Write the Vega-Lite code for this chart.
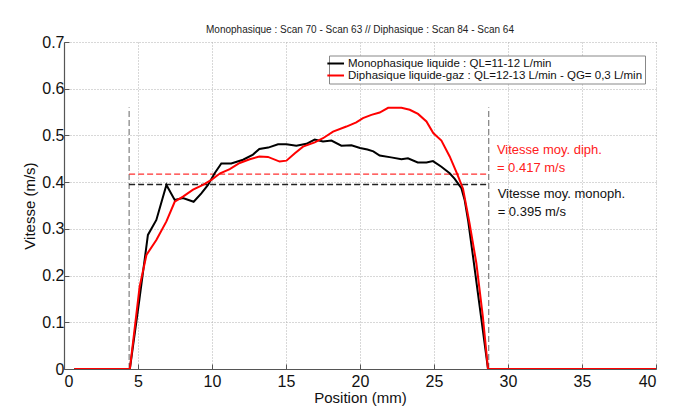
{
  "$schema": "https://vega.github.io/schema/vega-lite/v6.json",
  "width": 592,
  "height": 327,
  "autosize": {"type": "none"},
  "padding": {"left": 64, "top": 42, "right": 24, "bottom": 41},
  "background": "white",
  "config": {
    "view": {"stroke": null},
    "font": "Liberation Sans",
    "axis": {
      "grid": true,
      "gridColor": "#b0b0b0",
      "gridDash": [1, 2],
      "gridWidth": 1,
      "domainColor": "#555555",
      "domainWidth": 1.2,
      "tickColor": "#555555",
      "tickSize": -5,
      "labelFontSize": 16,
      "labelColor": "#111111",
      "titleFontSize": 15,
      "titleFontWeight": "normal",
      "titleColor": "#111111"
    }
  },
  "title": {
    "text": "Monophasique : Scan 70 - Scan 63 // Diphasique : Scan 84 - Scan 64",
    "anchor": "middle",
    "offset": -1,
    "font": "Liberation Sans",
    "fontSize": 10,
    "fontWeight": "normal",
    "color": "#222222"
  },
  "datasets": {
    "curves": [
      {"serie": "Monophasique liquide : QL=11-12 L/min", "x": 0.7, "y": 0},
      {"serie": "Monophasique liquide : QL=11-12 L/min", "x": 4.45, "y": 0},
      {"serie": "Monophasique liquide : QL=11-12 L/min", "x": 5.1, "y": 0.15},
      {"serie": "Monophasique liquide : QL=11-12 L/min", "x": 5.67, "y": 0.287},
      {"serie": "Monophasique liquide : QL=11-12 L/min", "x": 6.24, "y": 0.319},
      {"serie": "Monophasique liquide : QL=11-12 L/min", "x": 6.92, "y": 0.394},
      {"serie": "Monophasique liquide : QL=11-12 L/min", "x": 7.48, "y": 0.362},
      {"serie": "Monophasique liquide : QL=11-12 L/min", "x": 8.04, "y": 0.366},
      {"serie": "Monophasique liquide : QL=11-12 L/min", "x": 8.76, "y": 0.358},
      {"serie": "Monophasique liquide : QL=11-12 L/min", "x": 9.28, "y": 0.376},
      {"serie": "Monophasique liquide : QL=11-12 L/min", "x": 9.73, "y": 0.394},
      {"serie": "Monophasique liquide : QL=11-12 L/min", "x": 10.18, "y": 0.419},
      {"serie": "Monophasique liquide : QL=11-12 L/min", "x": 10.63, "y": 0.44},
      {"serie": "Monophasique liquide : QL=11-12 L/min", "x": 11.3, "y": 0.44},
      {"serie": "Monophasique liquide : QL=11-12 L/min", "x": 12.1, "y": 0.448},
      {"serie": "Monophasique liquide : QL=11-12 L/min", "x": 12.77, "y": 0.459},
      {"serie": "Monophasique liquide : QL=11-12 L/min", "x": 13.2, "y": 0.471},
      {"serie": "Monophasique liquide : QL=11-12 L/min", "x": 13.8, "y": 0.474},
      {"serie": "Monophasique liquide : QL=11-12 L/min", "x": 14.46, "y": 0.481},
      {"serie": "Monophasique liquide : QL=11-12 L/min", "x": 15.03, "y": 0.481},
      {"serie": "Monophasique liquide : QL=11-12 L/min", "x": 15.7, "y": 0.478},
      {"serie": "Monophasique liquide : QL=11-12 L/min", "x": 16.38, "y": 0.482},
      {"serie": "Monophasique liquide : QL=11-12 L/min", "x": 16.94, "y": 0.491},
      {"serie": "Monophasique liquide : QL=11-12 L/min", "x": 17.5, "y": 0.487},
      {"serie": "Monophasique liquide : QL=11-12 L/min", "x": 18.07, "y": 0.489},
      {"serie": "Monophasique liquide : QL=11-12 L/min", "x": 18.74, "y": 0.478},
      {"serie": "Monophasique liquide : QL=11-12 L/min", "x": 19.42, "y": 0.479},
      {"serie": "Monophasique liquide : QL=11-12 L/min", "x": 20.0, "y": 0.473},
      {"serie": "Monophasique liquide : QL=11-12 L/min", "x": 20.5, "y": 0.47},
      {"serie": "Monophasique liquide : QL=11-12 L/min", "x": 20.9, "y": 0.466},
      {"serie": "Monophasique liquide : QL=11-12 L/min", "x": 21.33, "y": 0.457},
      {"serie": "Monophasique liquide : QL=11-12 L/min", "x": 22.1, "y": 0.453},
      {"serie": "Monophasique liquide : QL=11-12 L/min", "x": 22.8, "y": 0.449},
      {"serie": "Monophasique liquide : QL=11-12 L/min", "x": 23.24, "y": 0.451},
      {"serie": "Monophasique liquide : QL=11-12 L/min", "x": 23.9, "y": 0.442},
      {"serie": "Monophasique liquide : QL=11-12 L/min", "x": 24.49, "y": 0.442},
      {"serie": "Monophasique liquide : QL=11-12 L/min", "x": 24.93, "y": 0.445},
      {"serie": "Monophasique liquide : QL=11-12 L/min", "x": 25.5, "y": 0.433},
      {"serie": "Monophasique liquide : QL=11-12 L/min", "x": 26.06, "y": 0.419},
      {"serie": "Monophasique liquide : QL=11-12 L/min", "x": 26.4, "y": 0.407},
      {"serie": "Monophasique liquide : QL=11-12 L/min", "x": 26.85, "y": 0.387},
      {"serie": "Monophasique liquide : QL=11-12 L/min", "x": 27.07, "y": 0.362},
      {"serie": "Monophasique liquide : QL=11-12 L/min", "x": 27.3, "y": 0.319},
      {"serie": "Monophasique liquide : QL=11-12 L/min", "x": 27.64, "y": 0.24},
      {"serie": "Monophasique liquide : QL=11-12 L/min", "x": 28.09, "y": 0.133},
      {"serie": "Monophasique liquide : QL=11-12 L/min", "x": 28.65, "y": 0},
      {"serie": "Monophasique liquide : QL=11-12 L/min", "x": 40, "y": 0},
      {"serie": "Diphasique liquide-gaz : QL=12-13 L/min - QG= 0,3 L/min", "x": 0.7, "y": 0},
      {"serie": "Diphasique liquide-gaz : QL=12-13 L/min - QG= 0,3 L/min", "x": 4.45, "y": 0},
      {"serie": "Diphasique liquide-gaz : QL=12-13 L/min - QG= 0,3 L/min", "x": 5.11, "y": 0.176},
      {"serie": "Diphasique liquide-gaz : QL=12-13 L/min - QG= 0,3 L/min", "x": 5.57, "y": 0.244},
      {"serie": "Diphasique liquide-gaz : QL=12-13 L/min - QG= 0,3 L/min", "x": 6.24, "y": 0.276},
      {"serie": "Diphasique liquide-gaz : QL=12-13 L/min - QG= 0,3 L/min", "x": 6.92, "y": 0.316},
      {"serie": "Diphasique liquide-gaz : QL=12-13 L/min - QG= 0,3 L/min", "x": 7.48, "y": 0.358},
      {"serie": "Diphasique liquide-gaz : QL=12-13 L/min - QG= 0,3 L/min", "x": 8.04, "y": 0.369},
      {"serie": "Diphasique liquide-gaz : QL=12-13 L/min - QG= 0,3 L/min", "x": 8.72, "y": 0.384},
      {"serie": "Diphasique liquide-gaz : QL=12-13 L/min - QG= 0,3 L/min", "x": 9.39, "y": 0.394},
      {"serie": "Diphasique liquide-gaz : QL=12-13 L/min - QG= 0,3 L/min", "x": 9.96, "y": 0.405},
      {"serie": "Diphasique liquide-gaz : QL=12-13 L/min - QG= 0,3 L/min", "x": 10.55, "y": 0.419},
      {"serie": "Diphasique liquide-gaz : QL=12-13 L/min - QG= 0,3 L/min", "x": 11.2, "y": 0.428},
      {"serie": "Diphasique liquide-gaz : QL=12-13 L/min - QG= 0,3 L/min", "x": 11.87, "y": 0.441},
      {"serie": "Diphasique liquide-gaz : QL=12-13 L/min - QG= 0,3 L/min", "x": 12.55, "y": 0.449},
      {"serie": "Diphasique liquide-gaz : QL=12-13 L/min - QG= 0,3 L/min", "x": 13.2, "y": 0.455},
      {"serie": "Diphasique liquide-gaz : QL=12-13 L/min - QG= 0,3 L/min", "x": 13.78, "y": 0.454},
      {"serie": "Diphasique liquide-gaz : QL=12-13 L/min - QG= 0,3 L/min", "x": 14.57, "y": 0.444},
      {"serie": "Diphasique liquide-gaz : QL=12-13 L/min - QG= 0,3 L/min", "x": 15.03, "y": 0.446},
      {"serie": "Diphasique liquide-gaz : QL=12-13 L/min - QG= 0,3 L/min", "x": 15.6, "y": 0.462},
      {"serie": "Diphasique liquide-gaz : QL=12-13 L/min - QG= 0,3 L/min", "x": 16.15, "y": 0.476},
      {"serie": "Diphasique liquide-gaz : QL=12-13 L/min - QG= 0,3 L/min", "x": 16.94, "y": 0.485},
      {"serie": "Diphasique liquide-gaz : QL=12-13 L/min - QG= 0,3 L/min", "x": 17.5, "y": 0.494},
      {"serie": "Diphasique liquide-gaz : QL=12-13 L/min - QG= 0,3 L/min", "x": 18.18, "y": 0.508},
      {"serie": "Diphasique liquide-gaz : QL=12-13 L/min - QG= 0,3 L/min", "x": 19.08, "y": 0.519},
      {"serie": "Diphasique liquide-gaz : QL=12-13 L/min - QG= 0,3 L/min", "x": 19.75, "y": 0.528},
      {"serie": "Diphasique liquide-gaz : QL=12-13 L/min - QG= 0,3 L/min", "x": 20.2, "y": 0.537},
      {"serie": "Diphasique liquide-gaz : QL=12-13 L/min - QG= 0,3 L/min", "x": 20.77, "y": 0.544},
      {"serie": "Diphasique liquide-gaz : QL=12-13 L/min - QG= 0,3 L/min", "x": 21.33, "y": 0.549},
      {"serie": "Diphasique liquide-gaz : QL=12-13 L/min - QG= 0,3 L/min", "x": 21.9, "y": 0.559},
      {"serie": "Diphasique liquide-gaz : QL=12-13 L/min - QG= 0,3 L/min", "x": 22.8, "y": 0.559},
      {"serie": "Diphasique liquide-gaz : QL=12-13 L/min - QG= 0,3 L/min", "x": 23.36, "y": 0.555},
      {"serie": "Diphasique liquide-gaz : QL=12-13 L/min - QG= 0,3 L/min", "x": 23.92, "y": 0.546},
      {"serie": "Diphasique liquide-gaz : QL=12-13 L/min - QG= 0,3 L/min", "x": 24.49, "y": 0.53},
      {"serie": "Diphasique liquide-gaz : QL=12-13 L/min - QG= 0,3 L/min", "x": 24.95, "y": 0.505},
      {"serie": "Diphasique liquide-gaz : QL=12-13 L/min - QG= 0,3 L/min", "x": 25.5, "y": 0.489},
      {"serie": "Diphasique liquide-gaz : QL=12-13 L/min - QG= 0,3 L/min", "x": 26.06, "y": 0.455},
      {"serie": "Diphasique liquide-gaz : QL=12-13 L/min - QG= 0,3 L/min", "x": 26.55, "y": 0.419},
      {"serie": "Diphasique liquide-gaz : QL=12-13 L/min - QG= 0,3 L/min", "x": 26.96, "y": 0.386},
      {"serie": "Diphasique liquide-gaz : QL=12-13 L/min - QG= 0,3 L/min", "x": 27.4, "y": 0.312},
      {"serie": "Diphasique liquide-gaz : QL=12-13 L/min - QG= 0,3 L/min", "x": 27.86, "y": 0.227},
      {"serie": "Diphasique liquide-gaz : QL=12-13 L/min - QG= 0,3 L/min", "x": 28.3, "y": 0.112},
      {"serie": "Diphasique liquide-gaz : QL=12-13 L/min - QG= 0,3 L/min", "x": 28.65, "y": 0},
      {"serie": "Diphasique liquide-gaz : QL=12-13 L/min - QG= 0,3 L/min", "x": 40, "y": 0}
    ]
  },
  "layer": [
    {
      "data": {"values": [{"x": 4.4, "y": 0, "y2": 0.56}, {"x": 28.7, "y": 0, "y2": 0.56}]},
      "mark": {"type": "rule", "color": "#666666", "strokeDash": [6, 3], "strokeWidth": 1},
      "encoding": {
        "x": {"field": "x", "type": "quantitative"},
        "y": {"field": "y", "type": "quantitative"},
        "y2": {"field": "y2"}
      }
    },
    {
      "data": {"values": [{"x": 4.4, "x2": 28.7, "y": 0.417}]},
      "mark": {"type": "rule", "color": "#ff3030", "strokeDash": [6, 3], "strokeWidth": 1.3},
      "encoding": {
        "x": {"field": "x", "type": "quantitative"},
        "x2": {"field": "x2"},
        "y": {"field": "y", "type": "quantitative"}
      }
    },
    {
      "data": {"values": [{"x": 4.4, "x2": 28.7, "y": 0.395}]},
      "mark": {"type": "rule", "color": "#222222", "strokeDash": [6, 3], "strokeWidth": 1.3},
      "encoding": {
        "x": {"field": "x", "type": "quantitative"},
        "x2": {"field": "x2"},
        "y": {"field": "y", "type": "quantitative"}
      }
    },
    {
      "data": {"name": "curves"},
      "mark": {"type": "line", "strokeWidth": 2, "clip": true},
      "encoding": {
        "x": {
          "field": "x",
          "type": "quantitative",
          "scale": {"domain": [0, 40], "nice": false, "zero": false},
          "axis": {
            "values": [0, 5, 10, 15, 20, 25, 30, 35, 40],
            "title": "Position (mm)",
            "labelPadding": 9,
            "titlePadding": 1
          }
        },
        "y": {
          "field": "y",
          "type": "quantitative",
          "scale": {"domain": [0, 0.7], "nice": false},
          "axis": {
            "values": [0, 0.1, 0.2, 0.3, 0.4, 0.5, 0.6, 0.7],
            "labelExpr": "datum.value == 0 ? '0' : format(datum.value, '.1f')",
            "title": "Vitesse (m/s)",
            "labelPadding": 5,
            "titlePadding": 4
          }
        },
        "color": {
          "field": "serie",
          "type": "nominal",
          "scale": {
            "domain": ["Monophasique liquide : QL=11-12 L/min", "Diphasique liquide-gaz : QL=12-13 L/min - QG= 0,3 L/min"],
            "range": ["#000000", "#ff0000"]
          },
          "legend": {
            "title": null,
            "orient": "none",
            "legendX": 265,
            "legendY": 13.5,
            "padding": 2,
            "fillColor": "white",
            "strokeColor": "#888888",
            "cornerRadius": 0,
            "labelFontSize": 11.5,
            "labelColor": "#111111",
            "symbolType": "M-1.93,0H1.4",
            "symbolSize": 100,
            "symbolStrokeWidth": 2,
            "labelOffset": 5,
            "rowPadding": -2,
            "labelLimit": 400
          }
        },
        "order": {"field": "x", "type": "quantitative"}
      }
    },
    {
      "data": {"values": [
        {"x": 29.25, "y": 0.469, "t": "Vitesse moy. diph."},
        {"x": 29.25, "y": 0.431, "t": " = 0.417 m/s"}
      ]},
      "mark": {"type": "text", "align": "left", "baseline": "middle", "fontSize": 13, "color": "#ff2020"},
      "encoding": {
        "x": {"field": "x", "type": "quantitative"},
        "y": {"field": "y", "type": "quantitative"},
        "text": {"field": "t"}
      }
    },
    {
      "data": {"values": [
        {"x": 29.3, "y": 0.375, "t": "Vitesse moy. monoph."},
        {"x": 29.3, "y": 0.337, "t": "= 0.395 m/s"}
      ]},
      "mark": {"type": "text", "align": "left", "baseline": "middle", "fontSize": 13, "color": "#111111"},
      "encoding": {
        "x": {"field": "x", "type": "quantitative"},
        "y": {"field": "y", "type": "quantitative"},
        "text": {"field": "t"}
      }
    }
  ]
}
